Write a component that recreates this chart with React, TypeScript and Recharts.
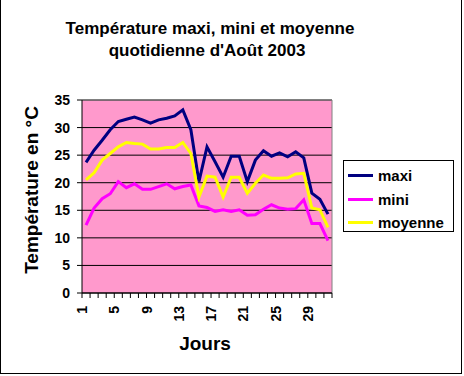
import React from 'react'
import {
  LineChart,
  Line,
  XAxis,
  YAxis,
  CartesianGrid,
  ReferenceLine,
} from 'recharts'

const days = [
  1, 2, 3, 4, 5, 6, 7, 8, 9, 10, 11, 12, 13, 14, 15, 16, 17, 18, 19, 20, 21,
  22, 23, 24, 25, 26, 27, 28, 29, 30, 31,
]
const maxi = [
  23.7, 25.9, 27.7, 29.6, 31.1, 31.5, 31.9, 31.4, 30.8, 31.4, 31.7, 32.1, 33.2,
  29.6, 20.2, 26.5, 23.8, 21.0, 24.8, 24.8, 20.2, 24.1, 25.8, 24.8, 25.4, 24.7,
  25.6, 24.5, 18.1, 17.0, 14.3,
]
const mini = [
  12.3, 15.4, 17.1, 18.0, 20.2, 19.1, 19.8, 18.8, 18.8, 19.3, 19.8, 18.9, 19.3,
  19.6, 15.8, 15.5, 14.8, 15.1, 14.8, 15.1, 14.1, 14.2, 15.2, 16.0, 15.4, 15.2,
  15.3, 16.9, 12.6, 12.6, 9.5,
]
const moyenne = [
  20.5, 21.8, 24.1, 25.3, 26.5, 27.3, 27.1, 27.0, 26.1, 26.1, 26.4, 26.4, 27.3,
  25.3, 17.4, 21.2, 21.0, 17.4, 21.0, 21.0, 18.1, 19.9, 21.4, 20.8, 20.8, 20.9,
  21.6, 21.7, 15.4, 15.1, 11.9,
]
const labelDays = [1, 5, 9, 13, 17, 21, 25, 29]
const yTicks = [0, 5, 10, 15, 20, 25, 30, 35]

const series = [
  { key: 'maxi', name: 'maxi', color: '#000080' },
  { key: 'mini', name: 'mini', color: '#FF00FF' },
  { key: 'moyenne', name: 'moyenne', color: '#FFFF00' },
]

const data = days.map((d, i) => ({
  day: d,
  maxi: maxi[i],
  mini: mini[i],
  moyenne: moyenne[i],
}))

// tick marks sit between categories, like Excel
const boundaries = [0, ...days].map((d) => d + 0.5)

const font = '"Liberation Sans", Arial, Helvetica, sans-serif'

// the tick sits on a category boundary; the day label goes half a step right
const DayTick = (props: any) => {
  const { x, y, payload, width } = props
  const day = payload.value + 0.5
  if (!labelDays.includes(day)) return <g />
  const lx = x + width / days.length / 2 + 1
  const ly = y + 8
  return (
    <text
      x={lx}
      y={ly}
      transform={`rotate(-90 ${lx} ${ly})`}
      textAnchor="end"
      fill="#000"
      fontSize={14}
      fontWeight="bold"
      fontFamily={font}
    >
      {day}
    </text>
  )
}

export default function App() {
  return (
    <div
      style={{
        position: 'absolute',
        left: 0,
        top: 0,
        width: 464,
        height: 376,
        background: '#fff',
        fontFamily: font,
      }}
    >
      <div
        style={{
          position: 'absolute',
          left: 0,
          top: 0,
          width: 462,
          height: 374,
          boxSizing: 'border-box',
          borderLeft: '1px solid #000',
          borderRight: '1px solid #000',
          borderBottom: '1px solid #000',
        }}
      />
      <LineChart
        width={464}
        height={376}
        data={data}
        margin={{ top: 100, right: 132, bottom: 0, left: 0 }}
      >
        <CartesianGrid
          vertical={false}
          stroke="#000"
          fill="#FF99CC"
          fillOpacity={1}
        />
        <XAxis
          dataKey="day"
          type="number"
          domain={[0.5, 31.5]}
          ticks={boundaries}
          tick={<DayTick />}
          tickSize={5}
          tickMargin={0}
          height={83}
          interval={0}
          axisLine={{ stroke: '#000' }}
          tickLine={{ stroke: '#000' }}
        />
        <YAxis
          type="number"
          domain={[0, 35]}
          ticks={yTicks}
          width={82}
          tickSize={5}
          tickMargin={7}
          interval={0}
          axisLine={{ stroke: '#000' }}
          tickLine={{ stroke: '#000' }}
          tick={{
            fill: '#000',
            fontSize: 14,
            fontWeight: 'bold',
            fontFamily: font,
          }}
        />
        <ReferenceLine y={35} stroke="#808080" strokeWidth={1} />
        <ReferenceLine x={31.5} stroke="#808080" strokeWidth={1} />
        {series.map((s) => (
          <Line
            key={s.key}
            type="linear"
            dataKey={s.key}
            name={s.name}
            stroke={s.color}
            strokeWidth={3}
            dot={false}
            isAnimationActive={false}
          />
        ))}
      </LineChart>

      <svg
        width={464}
        height={376}
        style={{ position: 'absolute', left: 0, top: 0, pointerEvents: 'none' }}
      >
        <text
          x={210}
          y={34}
          textAnchor="middle"
          fontSize={17}
          fontWeight="bold"
          fontFamily={font}
        >
          Température maxi, mini et moyenne
        </text>
        <text
          x={207}
          y={56}
          textAnchor="middle"
          fontSize={17}
          fontWeight="bold"
          fontFamily={font}
        >
          quotidienne d'Août 2003
        </text>
        <text
          x={205}
          y={350}
          textAnchor="middle"
          fontSize={19}
          fontWeight="bold"
          fontFamily={font}
        >
          Jours
        </text>
        <text
          x={38}
          y={190}
          transform="rotate(-90 38 190)"
          textAnchor="middle"
          fontSize={19}
          fontWeight="bold"
          fontFamily={font}
        >
          Température en °C
        </text>
      </svg>

      <div
        style={{
          position: 'absolute',
          left: 343,
          top: 160,
          width: 111,
          height: 72,
          boxSizing: 'border-box',
          border: '1px solid #000',
          background: '#fff',
          paddingTop: 3,
        }}
      >
        {series.map((s) => (
          <div
            key={s.key}
            style={{
              display: 'flex',
              alignItems: 'center',
              height: 23.5,
              paddingLeft: 4,
            }}
          >
            <div
              style={{
                width: 25,
                height: 3,
                background: s.color,
                marginRight: 5,
              }}
            />
            <span
              style={{
                fontSize: 15,
                fontWeight: 'bold',
                color: '#000',
                fontFamily: font,
              }}
            >
              {s.name}
            </span>
          </div>
        ))}
      </div>
    </div>
  )
}
